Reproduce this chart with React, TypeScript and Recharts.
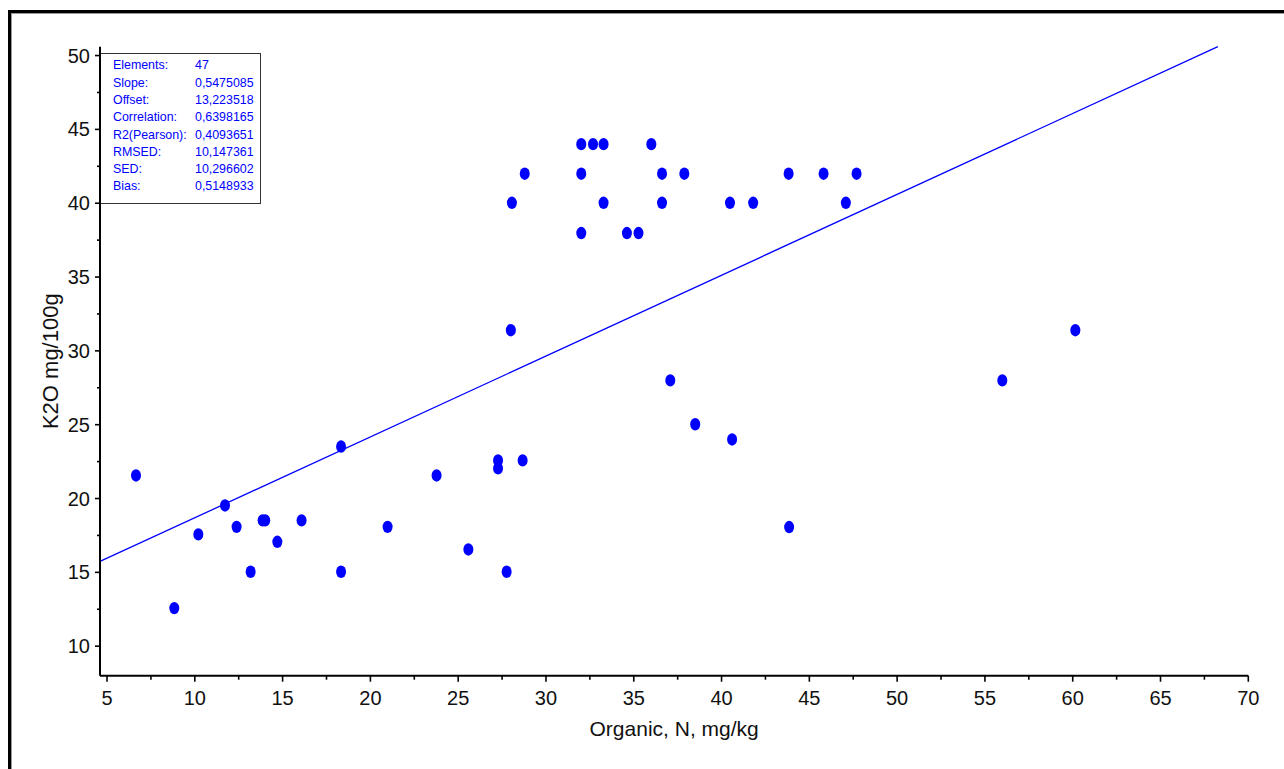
import {
  ScatterChart,
  Scatter,
  XAxis,
  YAxis,
  ReferenceLine,
  Customized,
} from "recharts";

// Organic N (mg/kg) vs K2O (mg/100g)
const organicN = [
  6.65, 8.83, 10.2, 11.72, 12.38, 13.18, 13.86, 14.01, 14.7, 16.08, 18.33, 18.33,
  20.98, 23.77, 25.58, 27.27, 27.27, 27.76, 28.0, 28.06, 28.67, 28.79, 32.01, 32.01,
  32.01, 32.68, 33.28, 33.28, 34.61, 35.27, 36.0, 36.61, 36.61, 37.08, 37.88, 38.5,
  40.48, 40.6, 41.8, 43.82, 43.85, 45.81, 47.08, 47.69, 55.99, 60.15,
];
const k2o = [
  21.56, 12.58, 17.57, 19.53, 18.08, 15.04, 18.52, 18.52, 17.07, 18.52, 23.52, 15.04,
  18.08, 21.56, 16.55, 22.58, 22.04, 15.04, 31.4, 40.03, 22.58, 42.0, 44.0, 42.0,
  37.98, 44.0, 44.0, 40.03, 37.98, 37.98, 44.0, 42.0, 40.03, 28.0, 42.0, 25.03,
  40.03, 24.0, 40.03, 42.0, 18.07, 42.0, 40.03, 42.0, 28.0, 31.4,
];

const xTicks = [5, 7.5, 10, 12.5, 15, 17.5, 20, 22.5, 25, 27.5, 30, 32.5, 35, 37.5, 40, 42.5, 45, 47.5, 50, 52.5, 55, 57.5, 60, 62.5, 65, 67.5, 70];
const yTicks = [10, 12.5, 15, 17.5, 20, 22.5, 25, 27.5, 30, 32.5, 35, 37.5, 40, 42.5, 45, 47.5, 50];

const statLabels = ["Elements:", "Slope:", "Offset:", "Correlation:", "R2(Pearson):", "RMSED:", "SED:", "Bias:"];
const statValues = ["47", "0,5475085", "13,223518", "0,6398165", "0,4093651", "10,147361", "10,296602", "0,5148933"];

const slope = 0.5475085;
const offset = 13.223518;

const xDomain = [4.6, 70];
const yDomain = [8, 50.6];

const points = organicN.map((x, i) => ({ x, y: k2o[i] }));
const fitStart = { x: xDomain[0], y: slope * xDomain[0] + offset };
const fitEnd = { x: (yDomain[1] - offset) / slope, y: yDomain[1] };

const FONT = "'Liberation Sans', Arial, Helvetica, sans-serif";
const BLUE = "#0000ff";

const XTick = ({ x, y, payload }: any) => {
  const major = payload.value % 5 === 0;
  return (
    <g>
      <line x1={x} y1={y} x2={x} y2={y + (major ? 6 : 4)} stroke="#000" strokeWidth={1.6} />
      {major && (
        <text x={x} y={y + 29} textAnchor="middle" fontSize={20} fontFamily={FONT} fill="#111">
          {payload.value}
        </text>
      )}
    </g>
  );
};

const YTick = ({ x, y, payload }: any) => {
  const major = payload.value % 5 === 0;
  return (
    <g>
      <line x1={x} y1={y} x2={x - (major ? 5 : 3)} y2={y} stroke="#000" strokeWidth={1.6} />
      {major && (
        <text x={x - 10} y={y + 7} textAnchor="end" fontSize={20} fontFamily={FONT} fill="#111">
          {payload.value}
        </text>
      )}
    </g>
  );
};

const Dot = (props: any) => <ellipse cx={props.cx} cy={props.cy} rx={5} ry={6.2} fill={BLUE} />;

const StatsBox = () => (
  <g>
    <rect x={100.5} y={53.5} width={160} height={150} fill="#fff" stroke="#333" strokeWidth={1} />
    {statLabels.map((s, i) => (
      <g key={s}>
        <text x={113} y={69.3 + i * 17.3} fontSize={12.4} fontFamily={FONT} fill={BLUE}>
          {s}
        </text>
        <text x={195} y={69.3 + i * 17.3} fontSize={12.4} fontFamily={FONT} fill={BLUE}>
          {statValues[i]}
        </text>
      </g>
    ))}
  </g>
);

export default function App() {
  return (
    <div style={{ position: "absolute", left: 0, top: 0, width: 1284, height: 769, background: "#fff", overflow: "hidden" }}>
      <div
        style={{
          position: "absolute",
          left: 8,
          top: 10,
          width: 1300,
          height: 800,
          borderTop: "3px solid #000",
          borderLeft: "3px solid #000",
          boxShadow: "inset 1px 1px 0 #999",
        }}
      />
      <div style={{ position: "absolute", left: 0, top: 0 }}>
        <ScatterChart width={1284} height={769} margin={{ top: 46.7, right: 35.7, bottom: 33.3, left: 40 }}>
          <XAxis
            type="number"
            dataKey="x"
            domain={xDomain}
            allowDataOverflow
            ticks={xTicks}
            interval={0}
            height={60}
            tickSize={0}
            tickMargin={0}
            tick={<XTick />}
            tickLine={false}
            axisLine={{ stroke: "#000", strokeWidth: 2 }}
            label={(p: any) => (
              <text
                x={p.viewBox.x + p.viewBox.width / 2}
                y={p.viewBox.y + 60}
                textAnchor="middle"
                fontSize={21}
                fontFamily={FONT}
                fill="#111"
              >
                Organic, N, mg/kg
              </text>
            )}
          />
          <YAxis
            type="number"
            dataKey="y"
            domain={yDomain}
            allowDataOverflow
            ticks={yTicks}
            interval={0}
            width={60}
            tickSize={0}
            tickMargin={0}
            tick={<YTick />}
            tickLine={false}
            axisLine={{ stroke: "#000", strokeWidth: 2 }}
            label={(p: any) => {
              const cx = p.viewBox.x + p.viewBox.width - 42;
              const cy = p.viewBox.y + p.viewBox.height / 2;
              return (
                <text
                  x={cx}
                  y={cy}
                  transform={`rotate(-90, ${cx}, ${cy})`}
                  textAnchor="middle"
                  fontSize={22}
                  fontFamily={FONT}
                  fill="#111"
                >
                  K2O mg/100g
                </text>
              );
            }}
          />
          <ReferenceLine segment={[fitStart, fitEnd]} stroke={BLUE} strokeWidth={1.3} />
          <Scatter data={points} shape={Dot} fill={BLUE} isAnimationActive={false} />
          <Customized component={StatsBox} />
        </ScatterChart>
      </div>
    </div>
  );
}
